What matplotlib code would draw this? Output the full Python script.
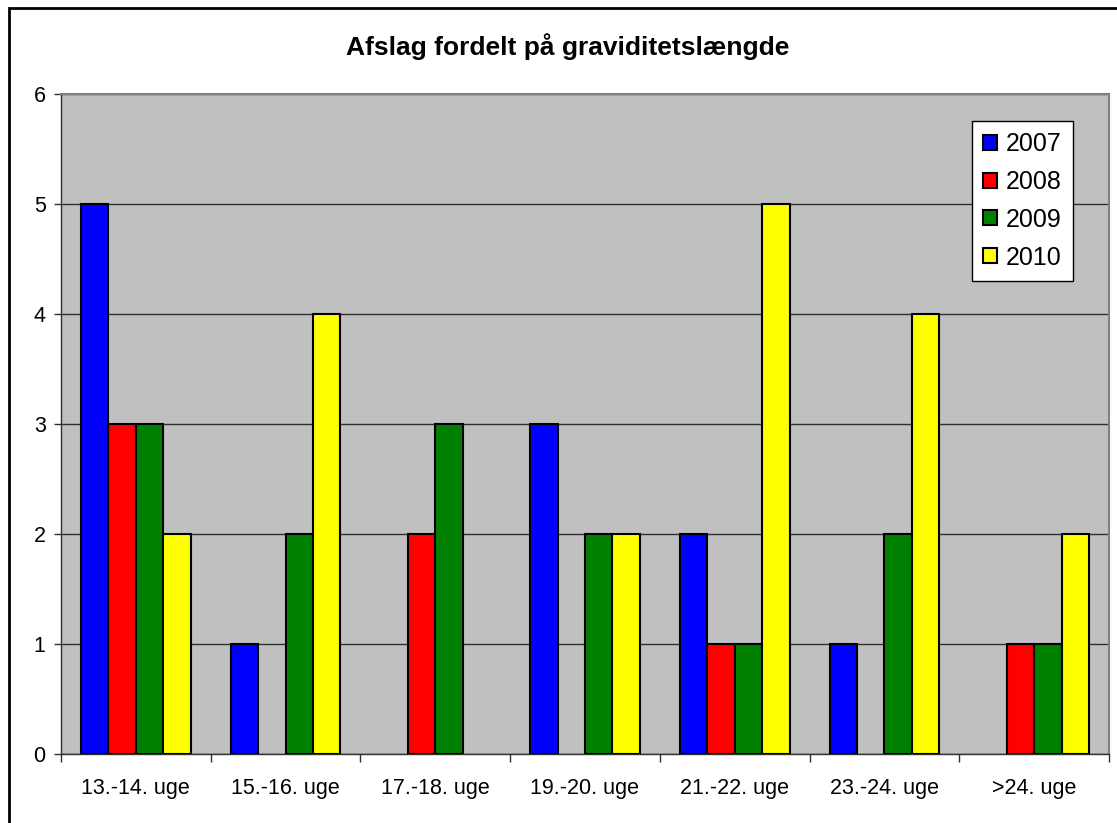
import numpy as np
import matplotlib
matplotlib.use("Agg")
import matplotlib.pyplot as plt
from matplotlib.patches import Rectangle

plt.rcParams['font.family'] = ['Liberation Sans', 'DejaVu Sans']

categories = ['13.-14. uge', '15.-16. uge', '17.-18. uge', '19.-20. uge',
              '21.-22. uge', '23.-24. uge', '>24. uge']
years = ['2007', '2008', '2009', '2010']
v2007 = [5, 1, 0, 3, 2, 1, 0]
v2008 = [3, 0, 2, 0, 1, 0, 1]
v2009 = [3, 2, 3, 2, 1, 2, 1]
v2010 = [2, 4, 0, 2, 5, 4, 2]
colors = ['#0000FF', '#FF0000', '#008000', '#FFFF00']

fig = plt.figure(figsize=(11.17, 8.23), dpi=100)
ax = fig.add_axes([0.0546, 0.0838, 0.9382, 0.802])

# outer chart border
fig.patches.append(Rectangle((9/1117, -0.05), 1.2, 1 - 8/823 + 0.05,
                             transform=fig.transFigure, fill=False,
                             edgecolor='black', linewidth=2, clip_on=False))

x = np.arange(len(categories))
w = 0.1833
series = [v2007, v2008, v2009, v2010]
for i, vals in enumerate(series):
    bars = ax.bar(x + (i - 1.5) * w, vals, width=w, color=colors[i],
                  edgecolor='black', linewidth=1.5, label=years[i], zorder=3)
    # Excel draws nothing for empty values
    for b, v in zip(bars, vals):
        if v == 0:
            b.set_visible(False)

ax.set_facecolor('#C0C0C0')
ax.set_xlim(-0.5, len(categories) - 0.5)
ax.set_ylim(0, 6)
ax.set_yticks(range(7))
ax.yaxis.grid(True, color='#303030', linewidth=1, zorder=1)
ax.set_xticks(x)
ax.set_xticklabels(categories, fontsize=15.5)
ax.set_xticks(np.arange(-0.5, len(categories)), minor=True)
ax.tick_params(axis='x', which='major', length=0, pad=17)
ax.tick_params(axis='x', which='minor', length=6, width=1, color='#303030')
ax.tick_params(axis='y', length=5, width=1, labelsize=15.5, pad=6, color='#303030')
for s in ['top', 'right']:
    ax.spines[s].set_color('#808080')
    ax.spines[s].set_linewidth(1.5)
for s in ['left', 'bottom']:
    ax.spines[s].set_color('#303030')
    ax.spines[s].set_linewidth(1)

fig.text(0.5085, 0.943, 'Afslag fordelt på graviditetslængde', ha='center',
         va='center', fontsize=19, fontweight='bold')

leg = ax.legend(loc='upper right', bbox_to_anchor=(0.9656, 0.959), borderaxespad=0,
                fontsize=18, fancybox=False, framealpha=1, edgecolor='black',
                handlelength=0.55, handleheight=0.55, handletextpad=0.35,
                labelspacing=0.55, borderpad=0.45)
leg.get_frame().set_linewidth(1)

fig.savefig('out.png', dpi=100)
